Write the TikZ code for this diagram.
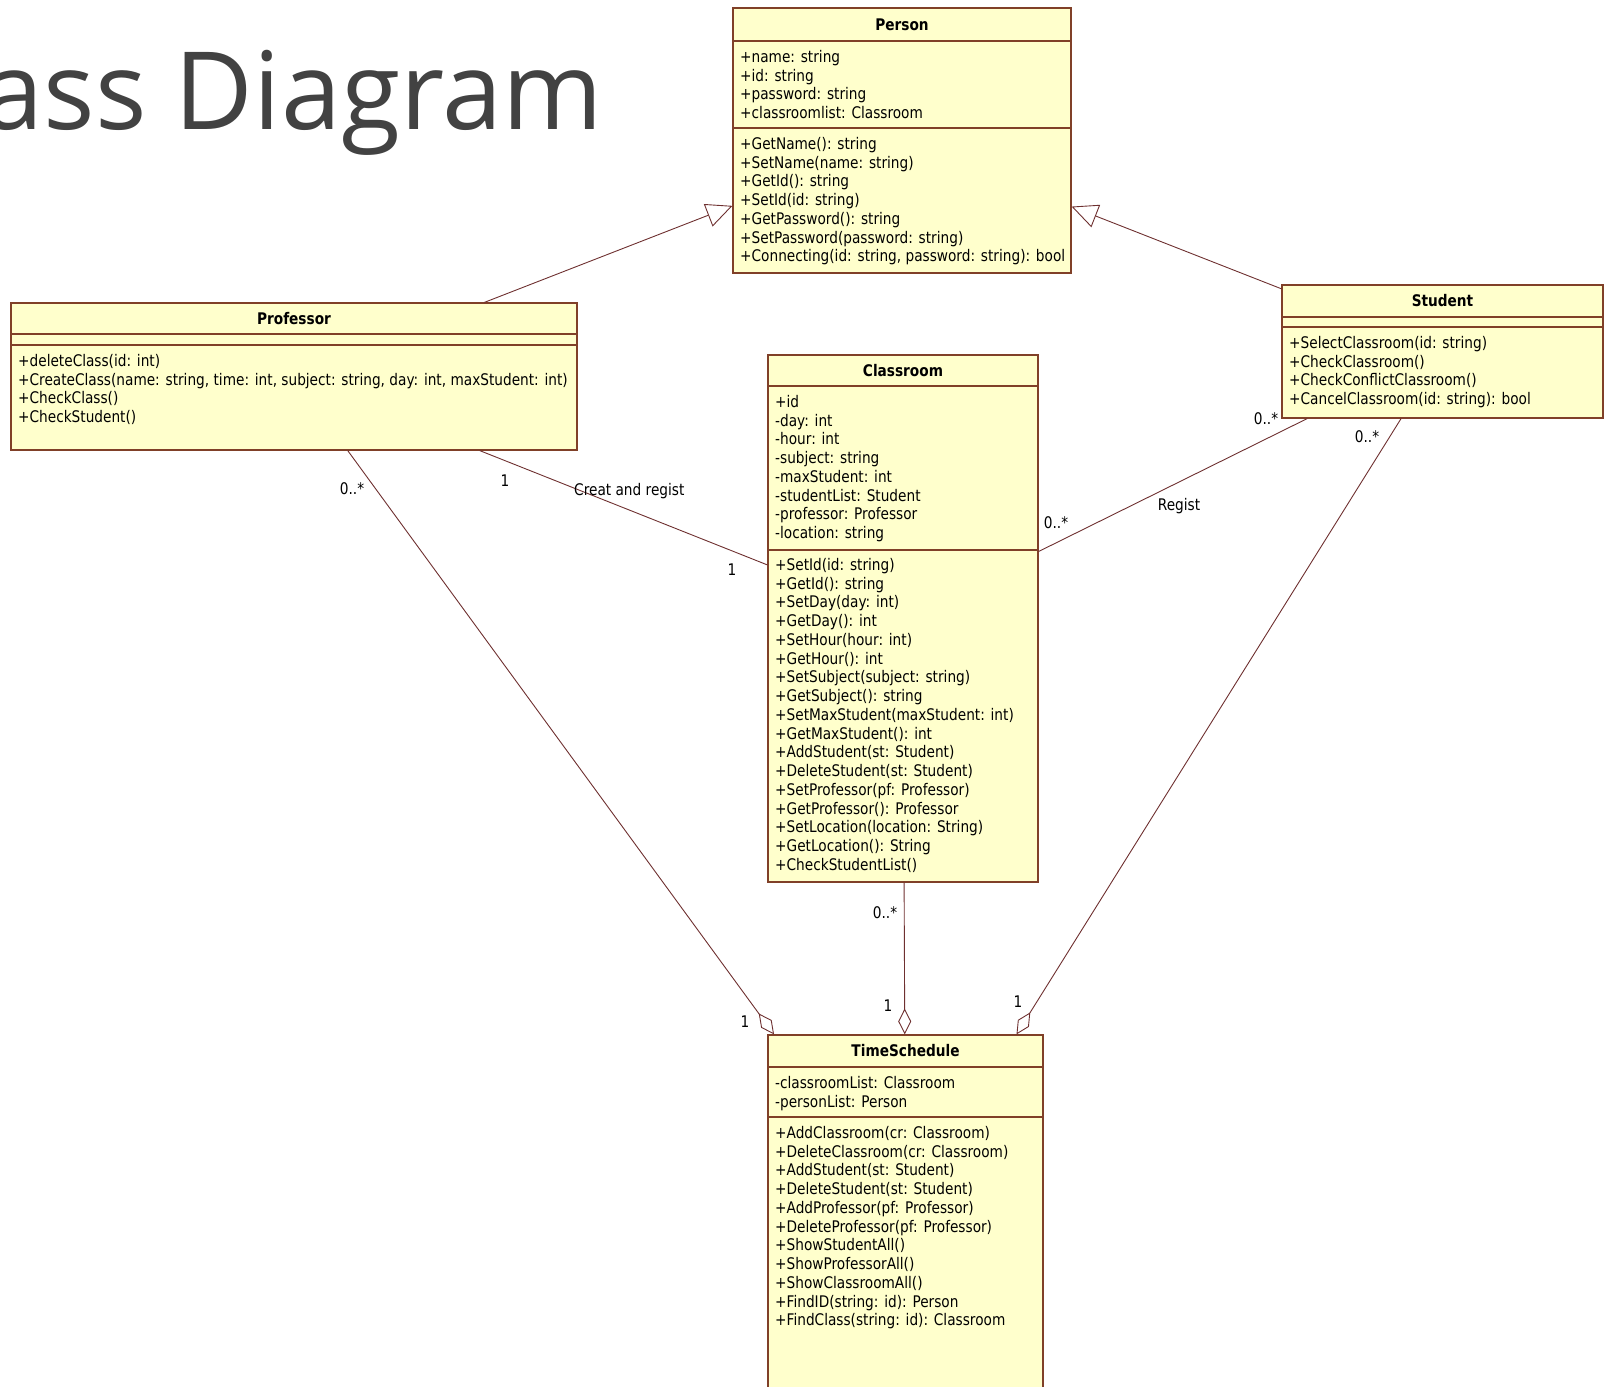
\documentclass[tikz,border=0pt]{standalone}
\usepackage{fontspec}
\setmainfont{DejaVu Sans}[FakeStretch=0.855]
\newfontfamily\headfont{Open Sans}
\usetikzlibrary{arrows.meta,positioning}

\definecolor{classfill}{RGB}{255,255,204}
\definecolor{classline}{RGB}{128,64,40}
\definecolor{linkline}{RGB}{110,48,48}
\definecolor{headgray}{RGB}{66,66,66}
\newcommand{\umlfont}{\fontsize{16}{18.75}\selectfont}

\tikzset{
  classbox/.style={draw=classline,fill=classfill,line width=1.2pt,inner sep=0pt},
  classname/.style={font=\umlfont\bfseries,inner sep=0pt},
  members/.style={anchor=north west,inner sep=0pt,align=left,font=\umlfont,
    execute at begin node=\rule{0pt}{12pt}},
  compart/.style={draw=classline,line width=1.2pt},
  link/.style={draw=linkline,line width=0.9pt},
  inherit/.style={link,-{Triangle[open,length=26pt,width=24pt]}},
  aggreg/.style={link,-{Diamond[open,length=26pt,width=13pt]}},
  mult/.style={font=\umlfont,inner sep=0pt}
}

\begin{document}
\begin{tikzpicture}[x=1pt,y=-1pt]
\useasboundingbox (0,0) rectangle (1608,1386);
\node[anchor=base east,inner sep=0pt,font=\headfont\fontsize{108}{108}\selectfont,text=headgray] (heading) at (603,130) {ass Diagram};

% Person
\node[classbox,minimum width=338pt,minimum height=265pt] (person) at (902,140.5) {};
\draw[compart] (person.west |- 0,41) -- (person.east |- 0,41);
\draw[compart] (person.west |- 0,128) -- (person.east |- 0,128);
\node[classname] (person-name) at (902,24.5) {Person};
\node[members] (person-attr) at (740,50) {+name: string\\+id: string\\+password: string\\+classroomlist: Classroom};
\node[members] (person-ops) at (740,137) {+GetName(): string\\+SetName(name: string)\\+GetId(): string\\+SetId(id: string)\\+GetPassword(): string\\+SetPassword(password: string)\\+Connecting(id: string, password: string): bool};

% Professor
\node[classbox,minimum width=566pt,minimum height=147pt] (professor) at (294,376.5) {};
\draw[compart] (professor.west |- 0,334) -- (professor.east |- 0,334);
\draw[compart] (professor.west |- 0,345) -- (professor.east |- 0,345);
\node[classname] (professor-name) at (294,318.5) {Professor};
\node[members] (professor-ops) at (18,354) {+deleteClass(id: int)\\+CreateClass(name: string, time: int, subject: string, day: int, maxStudent: int)\\+CheckClass()\\+CheckStudent()};

% Student
\node[classbox,minimum width=321pt,minimum height=133pt] (student) at (1442.5,351.5) {};
\draw[compart] (student.west |- 0,317) -- (student.east |- 0,317);
\draw[compart] (student.west |- 0,327) -- (student.east |- 0,327);
\node[classname] (student-name) at (1442.5,301) {Student};
\node[members] (student-ops) at (1289,336) {+SelectClassroom(id: string)\\+CheckClassroom()\\+CheckConflictClassroom()\\+CancelClassroom(id: string): bool};

% Classroom
\node[classbox,minimum width=270pt,minimum height=527pt] (classroom) at (903,618.5) {};
\draw[compart] (classroom.west |- 0,386) -- (classroom.east |- 0,386);
\draw[compart] (classroom.west |- 0,550) -- (classroom.east |- 0,550);
\node[classname] (classroom-name) at (903,370.5) {Classroom};
\node[members] (classroom-attr) at (775,395) {+id\\-day: int\\-hour: int\\-subject: string\\-maxStudent: int\\-studentList: Student\\-professor: Professor\\-location: string};
\node[members] (classroom-ops) at (775,558) {+SetId(id: string)\\+GetId(): string\\+SetDay(day: int)\\+GetDay(): int\\+SetHour(hour: int)\\+GetHour(): int\\+SetSubject(subject: string)\\+GetSubject(): string\\+SetMaxStudent(maxStudent: int)\\+GetMaxStudent(): int\\+AddStudent(st: Student)\\+DeleteStudent(st: Student)\\+SetProfessor(pf: Professor)\\+GetProfessor(): Professor\\+SetLocation(location: String)\\+GetLocation(): String\\+CheckStudentList()};

% TimeSchedule
\node[classbox,minimum width=275pt,minimum height=360pt] (schedule) at (905.5,1215) {};
\draw[compart] (schedule.west |- 0,1067) -- (schedule.east |- 0,1067);
\draw[compart] (schedule.west |- 0,1117) -- (schedule.east |- 0,1117);
\node[classname] (schedule-name) at (905.5,1051) {TimeSchedule};
\node[members] (schedule-attr) at (775,1076) {-classroomList: Classroom\\-personList: Person};
\node[members] (schedule-ops) at (775,1126) {+AddClassroom(cr: Classroom)\\+DeleteClassroom(cr: Classroom)\\+AddStudent(st: Student)\\+DeleteStudent(st: Student)\\+AddProfessor(pf: Professor)\\+DeleteProfessor(pf: Professor)\\+ShowStudentAll()\\+ShowProfessorAll()\\+ShowClassroomAll()\\+FindID(string: id): Person\\+FindClass(string: id): Classroom};

% links
\draw[inherit] (professor) -- (person);
\draw[inherit] (student) -- (person);
\draw[link] (professor) -- (classroom);
\draw[link] (classroom) -- (student);
\draw[aggreg] (professor) -- (schedule);
\draw[aggreg] (classroom) -- (schedule);
\draw[aggreg] (student) -- (schedule);

\node[mult] (pc-a) at (505,481) {1};
\node[mult,anchor=west] (pc-name) at (574,491) {Creat and regist};
\node[mult] (pc-b) at (732,570) {1};
\node[mult] (cs-a) at (1056,523) {0..*};
\node[mult] (cs-name) at (1179,506) {Regist};
\node[mult] (cs-b) at (1266,419) {0..*};
\node[mult] (ps-a) at (352,489) {0..*};
\node[mult] (ps-b) at (745,1022) {1};
\node[mult] (cts-a) at (885,913) {0..*};
\node[mult] (cts-b) at (888,1006) {1};
\node[mult] (sts-a) at (1367,437) {0..*};
\node[mult] (sts-b) at (1018,1002) {1};
\end{tikzpicture}
\end{document}
